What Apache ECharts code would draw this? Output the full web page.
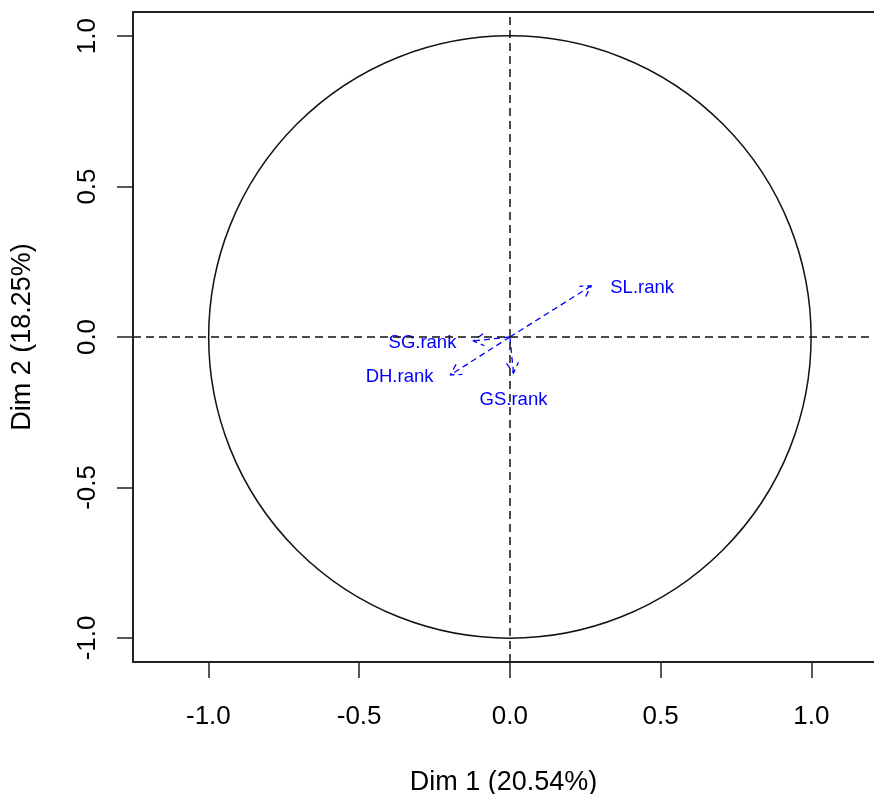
<!DOCTYPE html>
<html><head><meta charset="utf-8">
<script src="https://cdn.jsdelivr.net/npm/echarts@6/dist/echarts.min.js"></script>
<style>html,body{margin:0;padding:0;background:#fff}#c{width:874px;height:794px}</style>
</head><body><div id="c"></div>
<script>
const varNames = ['SL.rank', 'SG.rank', 'DH.rank', 'GS.rank'];
const dim1 = [0.270, -0.121, -0.197, 0.012];
const dim2 = [0.170, -0.013, -0.126, -0.120];
const labelSides = ['right', 'left', 'left', 'bottom'];
const tickValues = [-1, -0.5, 0, 0.5, 1];
const xTitle = 'Dim 1 (20.54%)';
const yTitle = 'Dim 2 (18.25%)';
const circleRadius = 1;

const FONT = '"Liberation Sans", Arial, sans-serif';
const chart = echarts.init(document.getElementById('c'), null, {renderer: 'canvas'});

function renderCircle(params, api) {
  const c = api.coord([0, 0]);
  const s = api.size([circleRadius, circleRadius]);
  return {type: 'circle', shape: {cx: c[0], cy: c[1], r: (s[0] + s[1]) / 2},
    style: {stroke: '#111', fill: 'none', lineWidth: 1.5}};
}

function renderArrow(params, api) {
  const i = params.dataIndex;
  const p0 = api.coord([0, 0]);
  const p1 = api.coord([api.value(0), api.value(1)]);
  const ang = Math.atan2(p1[1] - p0[1], p1[0] - p0[0]);
  const L = 12, a = Math.PI / 6;
  const h1 = [p1[0] - L * Math.cos(ang - a), p1[1] - L * Math.sin(ang - a)];
  const h2 = [p1[0] - L * Math.cos(ang + a), p1[1] - L * Math.sin(ang + a)];
  const st = {stroke: '#0000ff', lineWidth: 1.3, lineDash: [6, 4], fill: null};
  const side = labelSides[i];
  let tx = p1[0], ty = p1[1], align = 'center', va = 'middle';
  if (side === 'right') { tx += 19; align = 'left'; ty += 2; }
  else if (side === 'left') { tx -= 17; align = 'right'; ty += 2; }
  else { ty += 17; va = 'top'; }
  return {type: 'group', children: [
    {type: 'line', shape: {x1: p0[0], y1: p0[1], x2: p1[0], y2: p1[1]}, style: st},
    {type: 'polyline', shape: {points: [h1, p1, h2]}, style: st},
    {type: 'text', x: tx, y: ty, style: {text: varNames[i], fill: '#0000ff', fontSize: 18.5,
      fontFamily: FONT, align: align, verticalAlign: va}}
  ]};
}

const frameLine = {show: true, onZero: false, lineStyle: {color: '#222', width: 2}};
const axisCommon = {
  type: 'value',
  axisLine: frameLine,
  splitLine: {show: false},
  axisTick: {show: true, inside: false, length: 16, lineStyle: {color: '#222', width: 1.5}, customValues: tickValues},
  nameLocation: 'middle',
  nameTextStyle: {fontSize: 27, color: '#000', fontFamily: FONT}
};

chart.setOption({
  animation: false,
  backgroundColor: '#fff',
  grid: {left: 133, right: 0, top: 12, bottom: 132, show: false, containLabel: false, outerBoundsMode: 'none'},
  xAxis: [
    Object.assign({}, axisCommon, {
      position: 'bottom',
      min: -1.25, max: 1.2077, name: xTitle, nameGap: 107,
      axisLabel: {customValues: tickValues, formatter: v => v.toFixed(1), fontSize: 26, color: '#000', margin: 42, fontFamily: FONT}
    }),
    {
      type: 'value', position: 'top', min: -1.25, max: 1.2077,
      axisLine: frameLine, axisTick: {show: false}, axisLabel: {show: false}, splitLine: {show: false}
    }
  ],
  yAxis: Object.assign({}, axisCommon, {
    min: -1.08, max: 1.08, name: yTitle, nameGap: 97,
    axisLabel: {customValues: tickValues, formatter: v => v.toFixed(1), fontSize: 26, color: '#000', margin: 32, rotate: 90, fontFamily: FONT}
  }),
  series: [
    {
      type: 'custom', renderItem: renderCircle, data: [[0, 0]], silent: true, clip: false,
      markLine: {silent: true, symbol: 'none', label: {show: false},
        lineStyle: {color: '#111', type: [8, 5], width: 1.5},
        data: [{xAxis: 0}, {yAxis: 0}]}
    },
    {
      type: 'custom', renderItem: renderArrow, silent: true,
      data: dim1.map((v, i) => [v, dim2[i]])
    }
  ]
});
</script></body></html>
